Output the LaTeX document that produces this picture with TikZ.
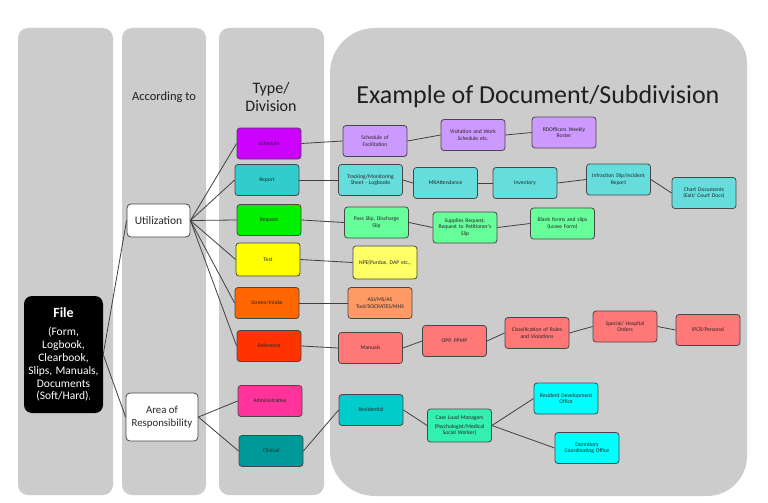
\documentclass[tikz,border=0pt]{standalone}
\usepackage{fontspec}
\setmainfont{Carlito}
\definecolor{panel}{HTML}{CCCCCC}
\definecolor{cSched}{HTML}{CC00FF}
\definecolor{cReport}{HTML}{33CCCC}
\definecolor{cRequest}{HTML}{00F000}
\definecolor{cTest}{HTML}{FFFF00}
\definecolor{cScreen}{HTML}{FF6600}
\definecolor{cRef}{HTML}{FF3300}
\definecolor{cAdmin}{HTML}{FF3399}
\definecolor{cClin}{HTML}{009999}
\definecolor{cLav}{HTML}{CC99FF}
\definecolor{cLTeal}{HTML}{66DDDD}
\definecolor{cLGreen}{HTML}{66FF99}
\definecolor{cLYellow}{HTML}{FFFF66}
\definecolor{cLOrange}{HTML}{FF9966}
\definecolor{cSalmon}{HTML}{FF7777}
\definecolor{cResid}{HTML}{00CCCC}
\definecolor{cCase}{HTML}{33F0B0}
\definecolor{cCyan}{HTML}{00FFFF}
\tikzset{
  box/.style={draw=black!72, line width=0.8pt, rounded corners=3pt,
    minimum width=64pt, minimum height=31pt, text width=62pt, align=center,
    inner sep=0.5pt, font=\fontsize{5.6}{6.6}\selectfont, text=black!85},
  wbox/.style={draw=black!72, line width=0.8pt, fill=white, rounded corners=4pt,
    align=center, inner sep=1pt, text=black!85},
  conn/.style={draw=black!75, line width=0.8pt},
  hdr/.style={align=center, text=black!88, inner sep=0pt}
}
\begin{document}
\begin{tikzpicture}[x=1pt,y=-1pt]
\useasboundingbox (0,0) rectangle (768,503);
\fill[white] (0,0) rectangle (768,503);
% panels
\fill[panel, rounded corners=10pt] (18,28) rectangle (113,495);
\fill[panel, rounded corners=10pt] (122,28) rectangle (206,495);
\fill[panel, rounded corners=10pt] (219,28) rectangle (324,495);
\fill[panel] (330,73) arc[start angle=180,end angle=270,radius=45]
  -- (712,28) arc[start angle=270,end angle=360,radius=35]
  -- (747,456) arc[start angle=0,end angle=90,radius=40]
  -- (375,496) arc[start angle=90,end angle=180,radius=45] -- cycle;
% headers
\node[hdr, font=\fontsize{12.5}{14}\selectfont] (hAcc) at (164,97) {According to};
\node[hdr, font=\fontsize{16}{18}\selectfont] (hType) at (271,97) {Type/\\Division};
\node[hdr, font=\fontsize{26}{30}\selectfont] (hEx) at (538,97) {Example of Document/Subdivision};
% file
\node[fill=black, rounded corners=8pt, minimum width=79pt, minimum height=117pt,
  text width=77pt, align=center, inner sep=0pt, text=white] (file) at (63.5,354.5)
  {{\fontsize{14}{16}\selectfont\bfseries File}\\[5pt]
   {\fontsize{11.5}{13}\selectfont (Form,\\ Logbook,\\ Clearbook,\\ Slips, Manuals,\\ Documents\\ (Soft/Hard)\raisebox{-1pt}{\fontsize{4}{4}\selectfont 1}}};
% according to
\node[wbox, minimum width=63pt, minimum height=33pt, font=\fontsize{11.5}{13}\selectfont] (util) at (158.5,220.5) {Utilization};
\node[wbox, minimum width=72pt, minimum height=48pt, font=\fontsize{10.8}{12.5}\selectfont] (area) at (162,417) {Area of\\Responsibility};
% types
\node[box, fill=cSched] (sched) at (269,143.5) {Schedule};
\node[box, fill=cReport] (report) at (267,180) {Report};
\node[box, fill=cRequest] (request) at (269,220) {Request};
\node[box, fill=cTest, minimum height=33pt] (test) at (268,259.5) {Test};
\node[box, fill=cScreen] (screen) at (267,303) {Screen/Intake};
\node[box, fill=cRef] (ref) at (269,346) {Reference};
\node[box, fill=cAdmin] (admin) at (270,401) {Administrative};
\node[box, fill=cClin] (clin) at (271,451) {Clinical};
% examples row 1
\node[box, fill=cLav] (sf) at (375,141) {Schedule of\\Facilitation};
\node[box, fill=cLav] (vis) at (473,135) {Visitation and Work\\Schedule etc.};
\node[box, fill=cLav] (rdo) at (564,132.5) {RDOfficers Weekly\\Roster};
% row 2
\node[box, fill=cLTeal] (track) at (370.5,180) {Tracking/Monitoring\\Sheet - Logbooks};
\node[box, fill=cLTeal] (mra) at (445.5,183) {MRAttendance};
\node[box, fill=cLTeal] (inv) at (525,183) {Inventory};
\node[box, fill=cLTeal] (infr) at (618.5,179.5) {Infraction Slip/Incident\\Report};
\node[box, fill=cLTeal] (chart) at (704,193) {Chart Documents\\(Exit/ Court Docs)};
% row 3
\node[box, fill=cLGreen] (pass) at (376.5,222.5) {Pass Slip, Discharge\\Slip};
\node[box, fill=cLGreen] (supp) at (465,227.5) {Supplies Request,\\Request to Petitioner's\\Slip};
\node[box, fill=cLGreen] (blank) at (562.5,223.5) {Blank forms and slips\\(Leave Form)};
% row 4,5
\node[box, fill=cLYellow, minimum height=33pt] (npe) at (385,262.5) {NPE(Purdue, DAP etc.,};
\node[box, fill=cLOrange] (asi) at (380,303) {ASI/MS/AS\\Tool/SOCRATES/MHS};
% row 6
\node[box, fill=cSalmon] (man) at (370.5,348) {Manuals};
\node[box, fill=cSalmon] (opp) at (454.5,341) {OPP, PPMP};
\node[box, fill=cSalmon] (cls) at (537,333) {Classification of Rules\\and Violations};
\node[box, fill=cSalmon] (spec) at (625,326.5) {Special/ Hospital\\Orders};
\node[box, fill=cSalmon] (ipcr) at (708,330) {IPCR/Personal};
% row 7
\node[box, fill=cResid] (resid) at (371,410) {Residential};
\node[box, fill=cCase, minimum height=33pt] (case) at (459.5,425.5) {Case Load Managers\\[2pt](Psychologist/Medical\\Social Worker)};
\node[box, fill=cCyan] (rdev) at (566,398.5) {Resident Development\\Office};
\node[box, fill=cCyan] (dorm) at (587,448) {Dormitory\\Coordinating Office};
% connectors
\draw[conn] (file.east) -- (util.west);
\draw[conn] (file.east) -- (area.west);
\foreach \t in {sched,report,request,test,screen,ref}
  \draw[conn] (util.east) -- (\t.west);
\draw[conn] (area.east) -- (admin.west);
\draw[conn] (area.east) -- (clin.west);
\draw[conn] (sched.east) -- (sf.west);
\draw[conn] (sf.east) -- (vis.west);
\draw[conn] (vis.east) -- (rdo.west);
\draw[conn] (report.east) -- (track.west);
\draw[conn] (track.east) -- (mra.west);
\draw[conn] (mra.east) -- (inv.west);
\draw[conn] (inv.east) -- (infr.west);
\draw[conn] (infr.east) -- (chart.west);
\draw[conn] (request.east) -- (pass.west);
\draw[conn] (pass.east) -- (supp.west);
\draw[conn] (supp.east) -- (blank.west);
\draw[conn] (test.east) -- (npe.west);
\draw[conn] (screen.east) -- (asi.west);
\draw[conn] (ref.east) -- (man.west);
\draw[conn] (man.east) -- (opp.west);
\draw[conn] (opp.east) -- (cls.west);
\draw[conn] (cls.east) -- (spec.west);
\draw[conn] (spec.east) -- (ipcr.west);
\draw[conn] (clin.east) -- (resid.west);
\draw[conn] (resid.east) -- (case.west);
\draw[conn] (case.east) -- (rdev.west);
\draw[conn] (case.east) -- (dorm.west);
\end{tikzpicture}
\end{document}
